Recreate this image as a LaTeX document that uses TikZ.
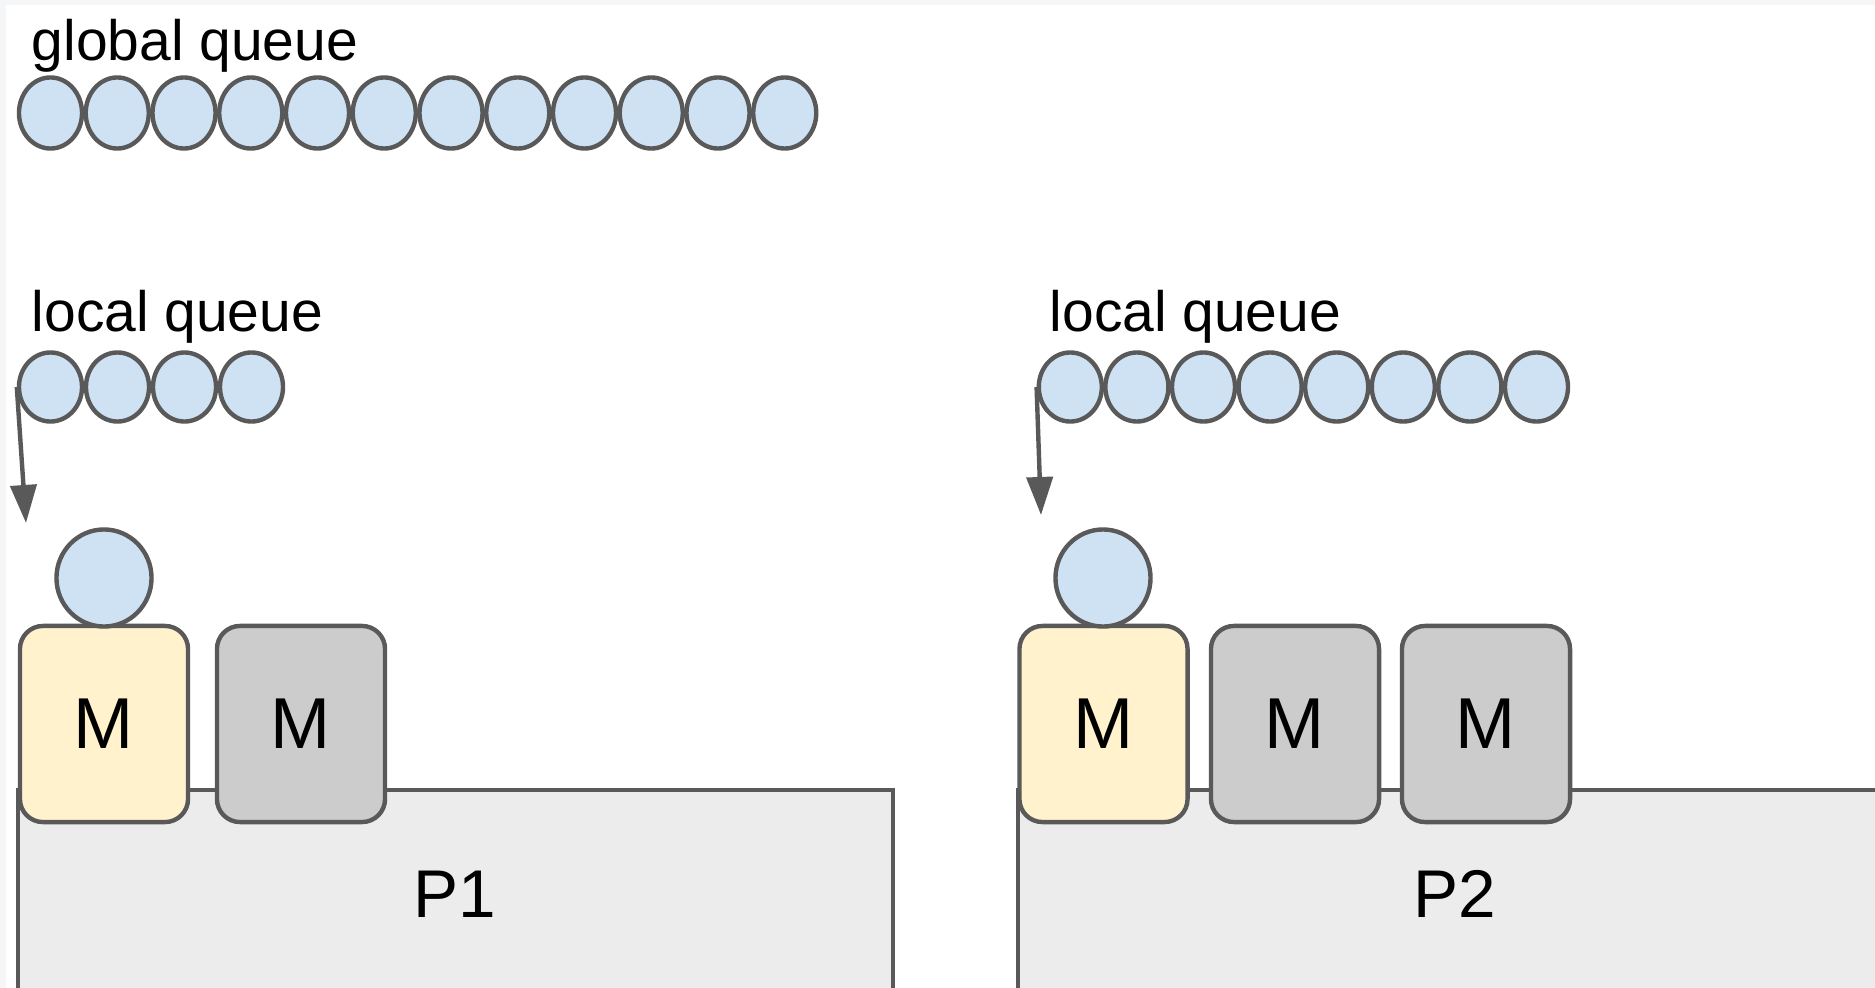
\documentclass[tikz,border=0pt]{standalone}
\usepackage{fontspec}
\setmainfont{Liberation Sans}
\usetikzlibrary{shapes.geometric,arrows.meta}
\definecolor{edge}{HTML}{595959}
\definecolor{gfill}{HTML}{CFE2F3}
\definecolor{mrun}{HTML}{FFF2CC}
\definecolor{midle}{HTML}{CCCCCC}
\definecolor{pfill}{HTML}{ECECEC}
\definecolor{framegray}{HTML}{F5F6F7}

\begin{document}
\begin{tikzpicture}[x=0.01cm,y=-0.01cm,
  goro/.style={ellipse, draw=edge, fill=gfill, line width=1.25pt, inner sep=0pt,
               minimum width=0.63cm, minimum height=0.71cm},
  lgoro/.style={goro, minimum height=0.69cm},
  rungoro/.style={goro, minimum width=0.95cm, minimum height=0.97cm},
  mbox/.style={draw=edge, line width=1.25pt, rounded corners=0.23cm,
               minimum width=1.68cm, minimum height=1.96cm, inner sep=0pt,
               font=\fontsize{20.5pt}{24pt}\selectfont},
  mrunning/.style={mbox, fill=mrun},
  midling/.style={mbox, fill=midle},
  pbox/.style={draw=edge, fill=pfill, line width=1.25pt},
  ptext/.style={font=\fontsize{19.2pt}{22pt}\selectfont, anchor=base, inner sep=0pt},
  qlabel/.style={font=\fontsize{16.2pt}{19pt}\selectfont, anchor=base west, inner sep=0pt},
  pull/.style={draw=edge, line width=1.25pt, -{Triangle[length=0.38cm,width=0.26cm]}}
]
% page frame and clipping area
\useasboundingbox (0,0) rectangle (1875,988);
\fill[framegray] (0,0) rectangle (1875,988);
\fill[white] (6,5) rectangle (1875,988);
\clip (0,0) rectangle (1875,988);

% global run queue
\node[qlabel] (glabel) at (31,61) {global queue};
\foreach \i in {0,...,11} {
  \node[goro] (g\i) at ({50.5+66.75*\i},113) {};
}

% processor P1 with its machines
\draw[pbox] (18,790) rectangle (893,1020);
\node[ptext] (p1text) at (455,917) {P1};
\node[mrunning] (m11) at (104,724) {M};
\node[midling] (m12) at (301,724) {M};
\node[rungoro] (run1) at (104,578) {};

% processor P2 with its machines
\draw[pbox] (1018,790) rectangle (1893,1020);
\node[ptext] (p2text) at (1455,917) {P2};
\node[mrunning] (m21) at (1103.5,724) {M};
\node[midling] (m22) at (1295,724) {M};
\node[midling] (m23) at (1486,724) {M};
\node[rungoro] (run2) at (1103,578) {};

% local run queue of P1
\node[qlabel] (l1label) at (31,331) {local queue};
\foreach \i in {0,...,3} {
  \node[lgoro] (a\i) at ({50.5+67*\i},387) {};
}
\coordinate (a-tip) at (26,523);
\draw[pull] (a0.west) -- (a-tip);

% local run queue of P2
\node[qlabel] (l2label) at (1049,331) {local queue};
\foreach \i in {0,...,7} {
  \node[lgoro] (b\i) at ({1070.3+66.6*\i},387) {};
}
\coordinate (b-tip) at (1041,515);
\draw[pull] (b0.west) -- (b-tip);
\end{tikzpicture}
\end{document}
